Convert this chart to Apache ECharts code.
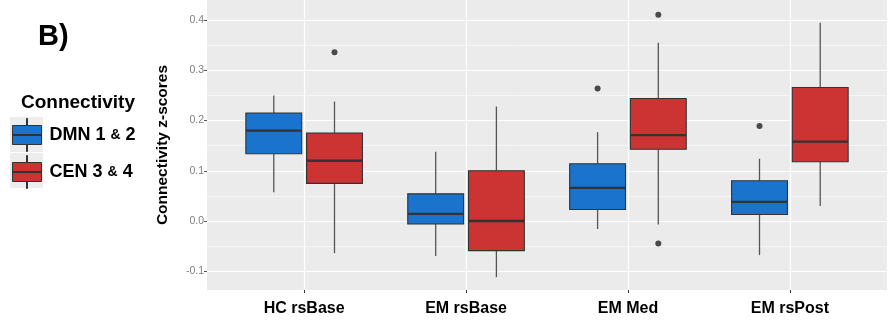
<!DOCTYPE html>
<html><head><meta charset="utf-8">
<script src="https://cdn.jsdelivr.net/npm/echarts@6/dist/echarts.min.js"></script>
<style>html,body{margin:0;padding:0;background:#fff}#c{width:891px;height:329px}</style>
</head><body><div id="c"></div>
<script>
// ---- data ----
const categories = ['HC rsBase', 'EM rsBase', 'EM Med', 'EM rsPost'];
const seriesNames = ['DMN 1 & 2', 'CEN 3 & 4'];
// [min, Q1, median, Q3, max] per category
const dmnBoxes = [
  [0.057, 0.134, 0.180, 0.215, 0.250],
  [-0.070, -0.006, 0.014, 0.054, 0.138],
  [-0.016, 0.023, 0.066, 0.114, 0.177],
  [-0.068, 0.013, 0.038, 0.080, 0.124]
];
const cenBoxes = [
  [-0.064, 0.075, 0.120, 0.175, 0.238],
  [-0.112, -0.059, 0.000, 0.100, 0.228],
  [-0.007, 0.143, 0.171, 0.244, 0.355],
  [0.030, 0.118, 0.158, 0.266, 0.395]
];
// [category index, value]
const dmnOutliers = [[2, 0.264], [3, 0.189]];
const cenOutliers = [[0, 0.336], [2, 0.411], [2, -0.045]];
const yTicks = [-0.1, 0, 0.1, 0.2, 0.3, 0.4];
const catTicks = [0, 1, 2, 3];

// ---- layout / style ----
const FONT = "'Liberation Sans', Arial, sans-serif";
const panelLeft = 207, panelTop = 0, panelW = 680, panelH = 290;
const yMin = -0.1375, yMax = 0.4402;
const catStep = panelW / 4.2;
const pxPerUnit = panelH / (yMax - yMin);
const g1Top = panelTop + (yMax - 0.5) * pxPerUnit;
const g1H = 0.7 * pxPerUnit;
const g1Left = panelLeft - 0.4 * catStep;
const g1W = 5 * catStep;
const dodge = [-0.1875, 0.1875];   // in category units
const boxWidthUnits = 0.345;

const blue = '#1A73CC', red = '#CC3333', edge = '#333333';
const iconPath = 'path://M14,0h1v7h-1Z M0,7h29v19h-29Z M0,16h29v1h-29Z M14,26h1v7h-1Z';

function withIndex(boxes) { return boxes.map(function (b, i) { return [i].concat(b); }); }

function renderBox(fill, off) {
  return function (params, api) {
    const k = api.value(0);
    const pMin = api.coord([k + off, api.value(1)]);
    const pQ1 = api.coord([k + off, api.value(2)]);
    const pMed = api.coord([k + off, api.value(3)]);
    const pQ3 = api.coord([k + off, api.value(4)]);
    const pMax = api.coord([k + off, api.value(5)]);
    const w = api.size([boxWidthUnits, 0])[0];
    const x = pMed[0];
    const whisker = {stroke: '#555555', lineWidth: 1.3};
    return {
      type: 'group',
      children: [
        {type: 'line', shape: {x1: x, y1: pQ3[1], x2: x, y2: pMax[1]}, style: whisker},
        {type: 'line', shape: {x1: x, y1: pQ1[1], x2: x, y2: pMin[1]}, style: whisker},
        {type: 'rect', shape: {x: x - w / 2, y: pQ3[1], width: w, height: pQ1[1] - pQ3[1]},
         style: {fill: fill, stroke: edge, lineWidth: 1.1}},
        {type: 'line', shape: {x1: x - w / 2, y1: pMed[1], x2: x + w / 2, y2: pMed[1]},
         style: {stroke: edge, lineWidth: 2.3}}
      ]
    };
  };
}

const chart = echarts.init(document.getElementById('c'), null, {renderer: 'canvas'});
chart.setOption({
  animation: false,
  backgroundColor: '#ffffff',
  textStyle: {fontFamily: FONT},
  title: [
    {text: 'B)', left: 33, top: 17, z: 6, textStyle: {fontFamily: FONT, fontSize: 29, fontWeight: 'bold', color: '#000'}},
    {text: 'Connectivity', left: 16, top: 88, z: 6, textStyle: {fontFamily: FONT, fontSize: 19, fontWeight: 'bold', color: '#000'}}
  ],
  legend: [
    {
      orient: 'vertical', left: 5, top: 112, z: 4, selectedMode: false,
      itemWidth: 33, itemHeight: 35, itemGap: 1,
      data: [
        {name: seriesNames[0], icon: 'rect', itemStyle: {color: '#EDEDED', borderWidth: 0}},
        {name: seriesNames[1], icon: 'rect', itemStyle: {color: '#EDEDED', borderWidth: 0}}
      ],
      formatter: function () { return ''; }
    },
    {
      orient: 'vertical', left: 7, top: 113, z: 6,
      itemWidth: 29, itemHeight: 33, itemGap: 3,
      data: [
        {name: seriesNames[0], icon: iconPath, itemStyle: {color: blue, borderColor: edge, borderWidth: 1}},
        {name: seriesNames[1], icon: iconPath, itemStyle: {color: red, borderColor: edge, borderWidth: 1}}
      ],
      formatter: function (n) {
        const parts = n.split('&');
        return '{a|' + parts[0] + '}{b|&}{a|' + parts[1] + '}';
      },
      textStyle: {
        padding: [0, 0, 0, 3],
        rich: {
          a: {fontFamily: FONT, fontSize: 18, fontWeight: 'bold', color: '#000'},
          b: {fontFamily: FONT, fontSize: 14, fontWeight: 'bold', color: '#000'}
        }
      }
    }
  ],
  grid: [
    {left: panelLeft, top: panelTop, width: panelW, height: panelH, show: true, backgroundColor: '#EBEBEB',
     borderWidth: 0, containLabel: false, outerBoundsMode: 'none'},
    {left: g1Left, top: g1Top, width: g1W, height: g1H, show: false, containLabel: false, outerBoundsMode: 'none'}
  ],
  xAxis: [
    {gridIndex: 0, type: 'value', min: -0.6, max: 3.6, z: 6,
     axisLine: {show: false, onZero: false}, splitLine: {show: false},
     axisTick: {show: true, length: 3, customValues: catTicks, lineStyle: {color: '#333', width: 1}},
     axisLabel: {show: true, customValues: catTicks, margin: 11,
       formatter: function (v) { return categories[Math.round(v)] || ''; },
       fontFamily: FONT, fontSize: 16, fontWeight: 'bold', color: '#000'}},
    {gridIndex: 1, type: 'value', min: -1, max: 4, interval: 1,
     axisLine: {show: false, onZero: false}, axisTick: {show: false}, axisLabel: {show: false},
     splitLine: {show: true, lineStyle: {color: '#FFFFFF', width: 1.2}}}
  ],
  yAxis: [
    {gridIndex: 0, type: 'value', min: yMin, max: yMax, z: 6,
     axisLine: {show: false, onZero: false}, splitLine: {show: false},
     axisTick: {show: true, length: 3, customValues: yTicks, lineStyle: {color: '#555', width: 1}},
     axisLabel: {show: true, customValues: yTicks, margin: 3,
       formatter: function (v) { return v.toFixed(1); },
       fontFamily: FONT, fontSize: 10.5, color: '#7F7F7F'},
     name: 'Connectivity z-scores', nameLocation: 'middle', nameGap: 36,
     nameTextStyle: {fontFamily: FONT, fontSize: 15.5, fontWeight: 'bold', color: '#000'}},
    {gridIndex: 1, type: 'value', min: -0.2, max: 0.5, interval: 0.1,
     axisLine: {show: false, onZero: false}, axisTick: {show: false}, axisLabel: {show: false},
     minorTick: {show: false, splitNumber: 2},
     splitLine: {show: true, lineStyle: {color: '#FFFFFF', width: 1.2}},
     minorSplitLine: {show: true, lineStyle: {color: '#FFFFFF', width: 0.6}}}
  ],
  series: [
    {name: seriesNames[0], type: 'custom', xAxisIndex: 0, yAxisIndex: 0, z: 3,
     data: withIndex(dmnBoxes), renderItem: renderBox(blue, dodge[0]),
     encode: {x: 0, y: [1, 2, 3, 4, 5]}, itemStyle: {color: blue}},
    {name: seriesNames[1], type: 'custom', xAxisIndex: 0, yAxisIndex: 0, z: 3,
     data: withIndex(cenBoxes), renderItem: renderBox(red, dodge[1]),
     encode: {x: 0, y: [1, 2, 3, 4, 5]}, itemStyle: {color: red}},
    {name: seriesNames[0] + ' outliers', type: 'scatter', xAxisIndex: 0, yAxisIndex: 0,
     data: dmnOutliers, symbol: 'circle', symbolSize: 6, symbolOffset: [dodge[0] * catStep, 0], z: 4,
     itemStyle: {color: '#222'}},
    {name: seriesNames[1] + ' outliers', type: 'scatter', xAxisIndex: 0, yAxisIndex: 0,
     data: cenOutliers, symbol: 'circle', symbolSize: 6, symbolOffset: [dodge[1] * catStep, 0], z: 4,
     itemStyle: {color: '#222'}}
  ]
});
</script>
</body></html>
